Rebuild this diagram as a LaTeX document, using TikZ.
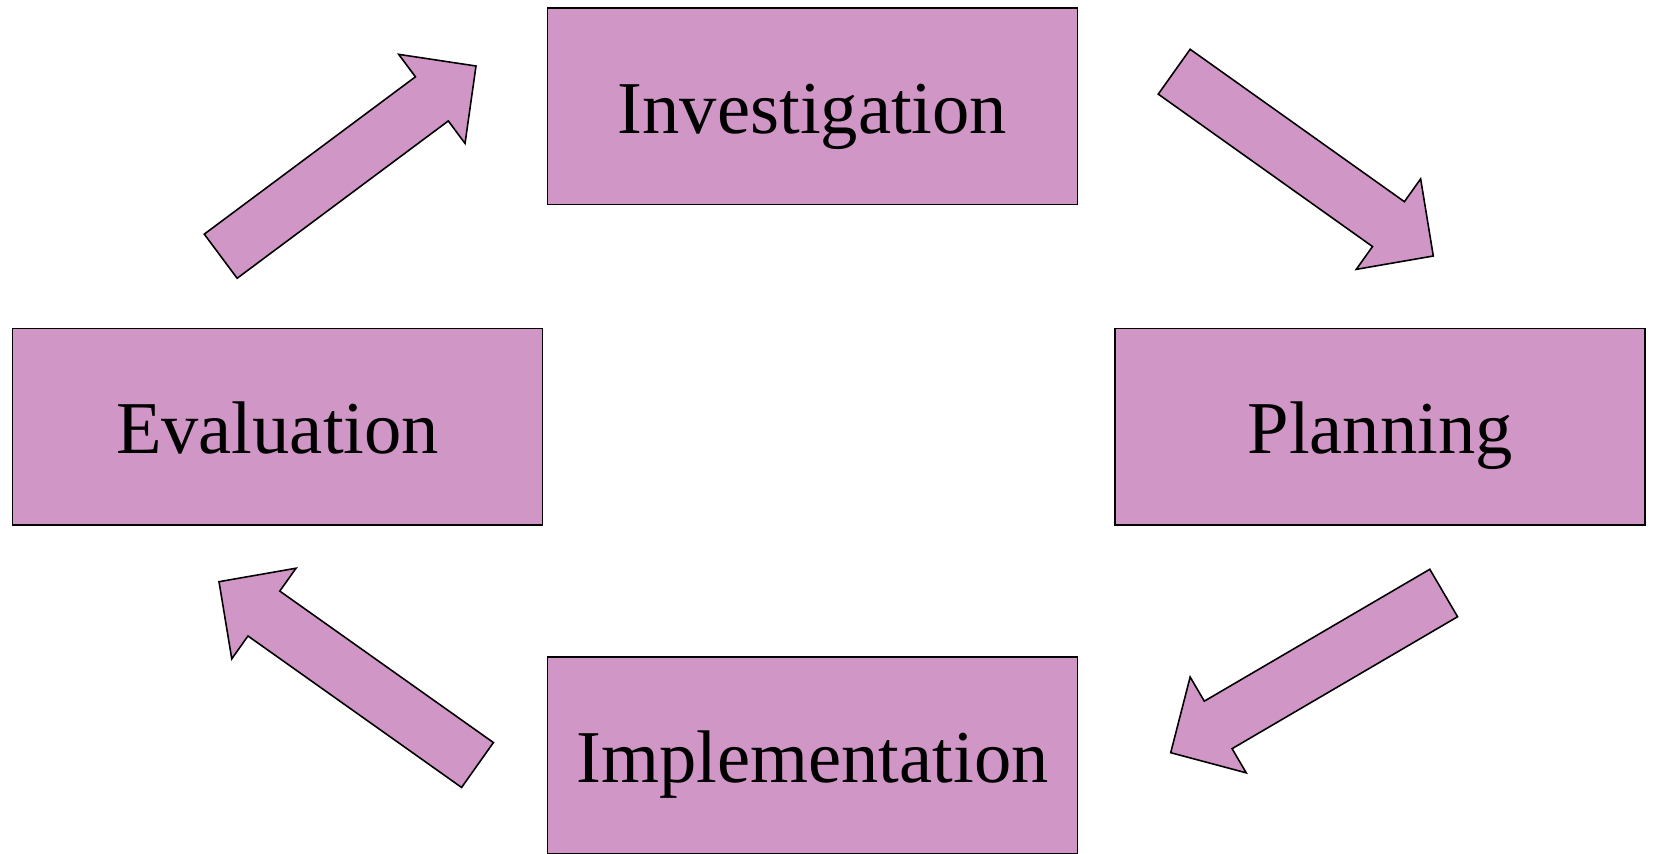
\documentclass[tikz,border=0pt]{standalone}
\usepackage{fontspec}
\setmainfont{Liberation Serif}
\usetikzlibrary{calc}
\definecolor{stagepink}{RGB}{208,150,198}
\tikzset{
  stage/.style={draw, fill=stagepink, line width=0.45pt, minimum width=5.296cm, minimum height=1.96cm,
    font=\fontsize{21.2}{25}\selectfont, text height=0.6cm, text depth=0.06cm},
  blockarr/.style={draw, fill=stagepink, line width=0.45pt},
}
% block arrow from tail #1 to tip #2
\newcommand{\cyclearrow}[2]{%
  \coordinate (#1-neck) at ($(#2)!0.55cm!(#1)$);
  \draw[blockarr] ($(#1)!0.275cm!90:(#2)$) -- ($(#1-neck)!0.275cm!90:(#2)$)
    -- ($(#1-neck)!0.555cm!90:(#2)$) -- (#2)
    -- ($(#1-neck)!0.555cm!-90:(#2)$) -- ($(#1-neck)!0.275cm!-90:(#2)$)
    -- ($(#1)!0.275cm!-90:(#2)$) -- cycle;
}

\begin{document}
\begin{tikzpicture}[x=0.01cm, y=-0.01cm]
    \useasboundingbox (0,0) rectangle (1653,854);
    \node[stage] (inv) at (812.5,106.3) {Investigation};
    \node[stage] (plan) at (1380.2,426.7) {Planning};
    \node[stage] (impl) at (812.5,755.3) {Implementation};
    \node[stage] (eval) at (277.5,426.7) {Evaluation};
    % arrow ends
    \coordinate (ei-tail) at (220.7,256.2);
    \coordinate (ei-tip) at (476,66);
    \coordinate (ip-tail) at (1174.2,71.7);
    \coordinate (ip-tip) at (1433.3,256);
    \coordinate (pm-tail) at (1443.7,593);
    \coordinate (pm-tip) at (1170.7,752.7);
    \coordinate (me-tail) at (477.5,765);
    \coordinate (me-tip) at (219,581.7);
    \cyclearrow{ei-tail}{ei-tip}
    \cyclearrow{ip-tail}{ip-tip}
    \cyclearrow{pm-tail}{pm-tip}
    \cyclearrow{me-tail}{me-tip}
  \end{tikzpicture}
\end{document}
